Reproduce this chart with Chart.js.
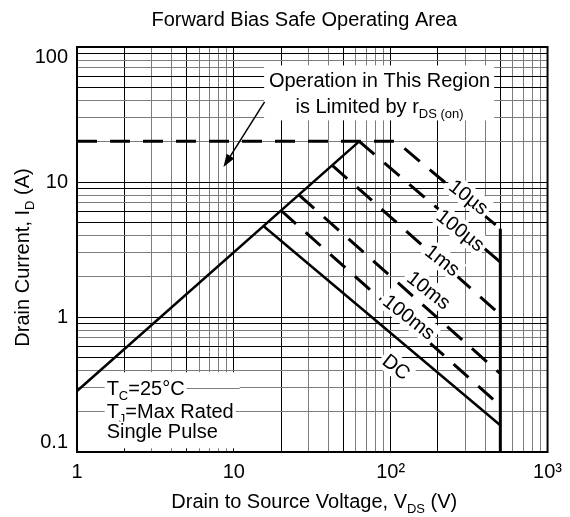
<!DOCTYPE html>
<html>
<head>
<meta charset="utf-8">
<script src="https://cdn.jsdelivr.net/npm/chart.js@4.4.1/dist/chart.umd.min.js"></script>
<style>
  html, body { margin: 0; padding: 0; background: #fff; }
  canvas { display: block; }
</style>
</head>
<body>
<canvas id="soa" width="570" height="517"></canvas>
<script>
// Axis tick labels (decades only)
const xTickLabels = ["1", "10", "10\u00B2", "10\u00B3"];
const yTickLabels = ["0.1", "1", "10", "100"];

// Boundary lines, V (volts) / I (amps)
const rdsV = [1, 63];            // r_DS(on) limit, solid
const rdsI = [0.283, 20];
const us10V = [1, 108, 500];     // current limit + 10 us, dashed
const us10I = [20, 20, 4.5];
const us100V = [63, 500];
const us100I = [20, 2.55];
const ms1V = [42.4, 500];
const ms1I = [13.3, 1.04];
const ms10V = [26.1, 500];
const ms10I = [8.0, 0.38];
const ms100V = [20, 500];
const ms100I = [6.15, 0.22];
const dcV = [15.5, 500];
const dcI = [4.7, 0.158];
const bvV = [500, 500];          // BVdss limit
const bvI = [4.5, 0.1];

// Curve labels and where they sit (data coords)
const pulseLabels = ["10\u00B5s", "100\u00B5s", "1ms", "10ms", "100ms", "DC"];
const pulseLabelV = [314, 279, 214, 175, 131, 108.6];
const pulseLabelI = [7.74, 4.39, 2.63, 1.58, 1.0, 0.427];

const FONT = '"Liberation Sans", Arial, Helvetica, sans-serif';
const GRAY = "#7c7c7c";

const pts = (xs, ys) => xs.map((v, i) => ({ x: v, y: ys[i] }));

function gridValues(lo, hi) {
  const out = [];
  for (let e = Math.round(Math.log10(lo)); e < Math.round(Math.log10(hi)); e++) {
    for (let m = 1; m < 10; m++) out.push(parseFloat((m * Math.pow(10, e)).toPrecision(6)));
  }
  out.push(hi);
  return out;
}
const isDecade = v => Math.abs(Math.log10(v) - Math.round(Math.log10(v))) < 1e-9;
const mantissa = v => Math.round(v / Math.pow(10, Math.floor(Math.log10(v) + 1e-9)));

// which grid lines print black (the rest are gray), as in the scanned sheet
const xBlack = [1, 2, 5];
const yBlack = [1, 5, 6, 9];

function drawRich(ctx, parts, x, y, align, size) {
  const sub = Math.round(size * 0.65);
  let w = 0;
  parts.forEach(p => { ctx.font = (p[1] ? sub : size) + "px " + FONT; w += ctx.measureText(p[0]).width; });
  let cx = align === "center" ? x - w / 2 : align === "right" ? x - w : x;
  ctx.textAlign = "left";
  ctx.textBaseline = "alphabetic";
  parts.forEach(p => {
    ctx.font = (p[1] ? sub : size) + "px " + FONT;
    ctx.fillText(p[0], cx, p[1] ? y + size * 0.25 : y);
    cx += ctx.measureText(p[0]).width;
  });
  return w;
}

function lineDs(label, xs, ys, dashed, width) {
  return {
    label,
    data: pts(xs, ys),
    borderColor: "#000",
    borderWidth: width || (dashed ? 3 : 2.5),
    borderDash: dashed ? [20, 13] : [],
    borderCapStyle: "butt",
    pointRadius: 0,
    fill: false,
    tension: 0
  };
}

const decor = {
  id: "decor",
  beforeDraw(chart) {
    const { ctx, width, height } = chart;
    ctx.save();
    ctx.fillStyle = "#fff";
    ctx.fillRect(0, 0, width, height);
    ctx.restore();
  },
  beforeDatasetsDraw(chart) {
    const { ctx, scales: { x, y } } = chart;
    ctx.save();
    ctx.fillStyle = "#fff";
    // note box (top)
    let x0 = x.getPixelForValue(15.6), x1 = x.getPixelForValue(457);
    let y0 = y.getPixelForValue(73), y1 = y.getPixelForValue(28.6);
    ctx.fillRect(x0, y0, x1 - x0, y1 - y0);
    // test condition box (bottom left)
    x0 = x.getPixelForValue(1.545); x1 = x.getPixelForValue(10.9);
    y0 = y.getPixelForValue(0.39); y1 = y.getPixelForValue(0.1065);
    ctx.fillRect(x0, y0, x1 - x0, y1 - y0);
    // horizontal grid still runs through this box
    ctx.lineWidth = 1;
    y.ticks.forEach(t => {
      if (t.value > 0.11 && t.value < 0.39) {
        const py = Math.round(y.getPixelForValue(t.value)) + 0.5;
        ctx.strokeStyle = yBlack.includes(mantissa(t.value)) ? "#000" : GRAY;
        ctx.beginPath(); ctx.moveTo(x0, py); ctx.lineTo(x1, py); ctx.stroke();
      }
    });
    ctx.restore();
  },
  afterDatasetsDraw(chart) {
    const { ctx, chartArea: a, scales: { x, y } } = chart;
    ctx.save();
    // frame
    ctx.strokeStyle = "#000";
    ctx.lineWidth = 2;
    ctx.strokeRect(a.left, a.top, a.right - a.left, a.bottom - a.top);

    ctx.fillStyle = "#000";
    // note text
    const nx = x.getPixelForValue(84.9);
    drawRich(ctx, [["Operation in This Region"]], nx, y.getPixelForValue(56.6) + 7, "center", 20);
    drawRich(ctx, [["is Limited by r"], ["DS (on)", 1]], nx, y.getPixelForValue(36.4) + 7, "center", 20);

    // arrow
    const ax0 = x.getPixelForValue(15.7), ay0 = y.getPixelForValue(39.2);
    const ax1 = x.getPixelForValue(8.59), ay1 = y.getPixelForValue(12.9);
    const ang = Math.atan2(ay1 - ay0, ax1 - ax0);
    ctx.lineWidth = 1.5;
    ctx.beginPath();
    ctx.moveTo(ax0, ay0);
    ctx.lineTo(ax1 - 9 * Math.cos(ang), ay1 - 9 * Math.sin(ang));
    ctx.stroke();
    ctx.beginPath();
    ctx.moveTo(ax1, ay1);
    ctx.lineTo(ax1 - 13 * Math.cos(ang) + 4.5 * Math.sin(ang), ay1 - 13 * Math.sin(ang) - 4.5 * Math.cos(ang));
    ctx.lineTo(ax1 - 13 * Math.cos(ang) - 4.5 * Math.sin(ang), ay1 - 13 * Math.sin(ang) + 4.5 * Math.cos(ang));
    ctx.closePath();
    ctx.fill();

    // test conditions
    const cx = x.getPixelForValue(1.545);
    const cond = [
      [[["T"], ["C", 1], ["=25\u00B0C"]], 0.3],
      [[["T"], ["J", 1], ["=Max Rated"]], 0.2],
      [[["Single Pulse"]], 0.142]
    ];
    cond.forEach(([parts, iv]) => {
      const cy = y.getPixelForValue(iv);
      ctx.fillStyle = "#fff";
      const w = drawRich(ctx, parts, -9999, 0, "left", 20);
      ctx.fillRect(cx - 2, cy - 10, w + 4, 20);
      ctx.fillStyle = "#000";
      drawRich(ctx, parts, cx, cy + 7, "left", 20);
    });

    // pulse width labels along the lines
    ctx.font = "20px " + FONT;
    ctx.textAlign = "center";
    ctx.textBaseline = "middle";
    pulseLabels.forEach((txt, i) => {
      const px = x.getPixelForValue(pulseLabelV[i]);
      const py = y.getPixelForValue(pulseLabelI[i]);
      const w = ctx.measureText(txt).width;
      ctx.save();
      ctx.translate(px, py);
      ctx.rotate(38 * Math.PI / 180);
      ctx.fillStyle = "#fff";
      ctx.fillRect(-w / 2 - 3, -11, w + 6, 22);
      ctx.fillStyle = "#000";
      ctx.fillText(txt, 0, 1);
      ctx.restore();
    });
    ctx.restore();
  },
  afterDraw(chart) {
    const { ctx, chartArea: a } = chart;
    ctx.save();
    ctx.fillStyle = "#000";
    const mid = (a.left + a.right) / 2;
    drawRich(ctx, [["Forward Bias Safe Operating Area"]], mid - 8, 26, "center", 20);
    drawRich(ctx, [["Drain to Source Voltage, V"], ["DS", 1], [" (V)"]], mid + 2, 508, "center", 20);
    ctx.translate(22, (a.top + a.bottom) / 2 + 8);
    ctx.rotate(-Math.PI / 2);
    drawRich(ctx, [["Drain Current, I"], ["D", 1], [" (A)"]], 0, 7, "center", 20);
    ctx.restore();
  }
};

new Chart(document.getElementById("soa"), {
  type: "line",
  data: {
    datasets: [
      lineDs("rDS(on) limit", rdsV, rdsI, false),
      lineDs("10us", us10V, us10I, true),
      lineDs("100us", us100V, us100I, true),
      lineDs("1ms", ms1V, ms1I, true),
      lineDs("10ms", ms10V, ms10I, true),
      lineDs("100ms", ms100V, ms100I, true),
      lineDs("DC", dcV, dcI, false),
      lineDs("BVdss", bvV, bvI, false, 3)
    ]
  },
  options: {
    responsive: false,
    animation: false,
    devicePixelRatio: 1,
    layout: { padding: { top: 47, right: 17, left: 0, bottom: 0 } },
    plugins: { legend: { display: false }, tooltip: { enabled: false }, title: { display: false } },
    scales: {
      x: {
        type: "logarithmic",
        position: "bottom",
        min: 1,
        max: 1000,
        afterBuildTicks: s => { s.ticks = gridValues(1, 1000).map(v => ({ value: v })); },
        afterFit: s => { s.height = 65; },
        grid: {
          drawTicks: false,
          lineWidth: 1,
          color: c => xBlack.includes(mantissa(c.tick.value)) ? "#000" : GRAY
        },
        border: { color: "#000", width: 2 },
        ticks: {
          autoSkip: false,
          maxRotation: 0,
          padding: 8,
          color: "#000",
          font: { family: FONT, size: 20 },
          callback: v => isDecade(v) ? xTickLabels[Math.round(Math.log10(v))] : ""
        }
      },
      y: {
        type: "logarithmic",
        position: "left",
        min: 0.1,
        max: 100,
        afterBuildTicks: s => { s.ticks = gridValues(0.1, 100).map(v => ({ value: v })); },
        afterFit: s => { s.width = 77; },
        grid: {
          drawTicks: false,
          lineWidth: 1,
          color: c => yBlack.includes(mantissa(c.tick.value)) ? "#000" : GRAY
        },
        border: { color: "#000", width: 2 },
        ticks: {
          autoSkip: false,
          padding: 9,
          color: "#000",
          font: { family: FONT, size: 20, lineHeight: 1 },
          callback: v => {
            if (!isDecade(v)) return "";
            const i = Math.round(Math.log10(v)) + 1;
            const t = yTickLabels[i];
            // end labels are pulled inside the frame on the original
            if (i === 0) return [t, ""];
            if (i === yTickLabels.length - 1) return ["", t];
            return t;
          }
        }
      }
    }
  },
  plugins: [decor]
});
</script>
</body>
</html>
